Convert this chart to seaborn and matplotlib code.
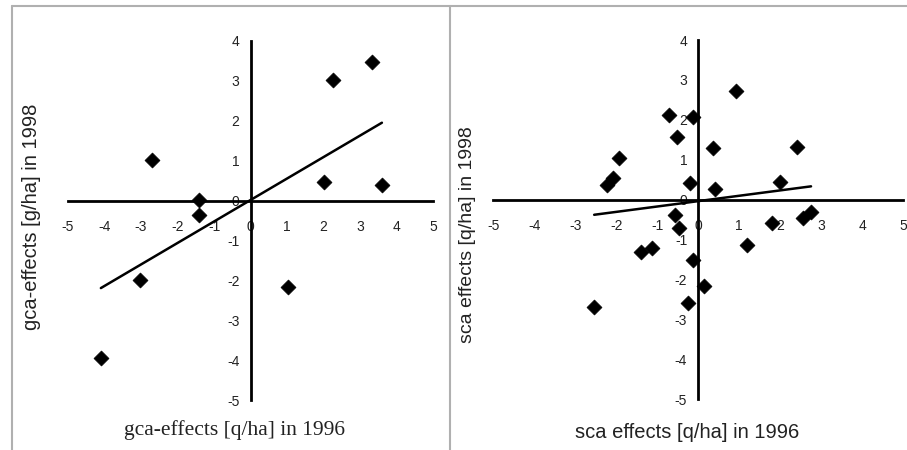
import numpy as np
import pandas as pd
import matplotlib.pyplot as plt
import seaborn as sns
from matplotlib.lines import Line2D

# gca effects, 1996 vs 1998
gca_1996 = [-2.69, -1.41, -1.41, -3.02, -4.10, 2.26, 3.32, 2.00, 3.60, 1.02]
gca_1998 = [1.02, 0.02, -0.35, -2.00, -3.95, 3.01, 3.47, 0.46, 0.38, -2.16]

# sca effects, 1996 vs 1998
sca_1996 = [-0.71, -0.14, 0.92, -0.52, 0.37, 2.41, -1.94, -2.09, -2.23, -0.20,
            0.41, 1.99, -0.57, -0.46, 1.79, 2.56, 2.75, -1.40, -1.14, 1.18,
            -0.12, 0.15, -0.26, -2.54]
sca_1998 = [2.12, 2.06, 2.73, 1.56, 1.30, 1.33, 1.05, 0.55, 0.37, 0.42,
            0.27, 0.45, -0.39, -0.72, -0.59, -0.47, -0.30, -1.32, -1.22, -1.14,
            -1.51, -2.16, -2.60, -2.70]

ticks_x = [-5, -4, -3, -2, -1, 0, 1, 2, 3, 4, 5]
ticks_y = [-5, -4, -3, -2, -1, 0, 1, 2, 3, 4]

sns.set_style("white")
plt.rcParams['font.family'] = ['Liberation Sans', 'DejaVu Sans']
plt.rcParams['axes.unicode_minus'] = False

fig = plt.figure(figsize=(9.07, 4.5), dpi=100)
ax1 = fig.add_axes([0.075, 0.1111, 0.4024, 0.7978])
ax2 = fig.add_axes([0.5439, 0.1133, 0.452, 0.7978])


def draw_panel(ax, x, y):
    df = pd.DataFrame({'x': x, 'y': y})
    sns.regplot(x='x', y='y', data=df, ax=ax, ci=None, marker='D', color='black',
                scatter_kws={'s': 58, 'edgecolors': 'black', 'linewidths': 0.5, 'alpha': 1},
                line_kws={'lw': 1.8, 'color': 'black'})
    ax.set_xlim(-5, 5)
    ax.set_ylim(-5, 4)
    for side in ['top', 'right']:
        ax.spines[side].set_visible(False)
    for side in ['left', 'bottom']:
        ax.spines[side].set_position('zero')
        ax.spines[side].set_linewidth(2)
        ax.spines[side].set_color('black')
    ax.set_xticks(ticks_x)
    ax.set_yticks(ticks_y)
    ax.tick_params(axis='x', direction='out', length=5, width=1.5, pad=9,
                   labelsize=10, colors='#222222')
    ax.tick_params(axis='y', direction='out', length=5, width=1.5, pad=3,
                   labelsize=10, colors='#222222')
    ax.set_xlabel('')
    ax.set_ylabel('')
    ax.patch.set_alpha(0)


draw_panel(ax1, gca_1996, gca_1998)
draw_panel(ax2, sca_1996, sca_1998)

# axis titles sit at the panel edges, not at the zero-crossing axes
fig.text(235 / 907, 1 - 430 / 450, 'gca-effects [q/ha] in 1996', ha='center', va='center',
         fontsize=15.5, family=['Liberation Serif', 'DejaVu Serif'], color='#222222')
fig.text(32 / 907, 1 - 217 / 450, 'gca-effects [g/ha] in 1998', ha='center', va='center',
         rotation=90, fontsize=14.5, color='#222222')
fig.text(687 / 907, 1 - 433 / 450, 'sca effects [q/ha] in 1996', ha='center', va='center',
         fontsize=14.5, color='#222222')
fig.text(468 / 907, 1 - 235 / 450, 'sca effects [q/ha] in 1998', ha='center', va='center',
         rotation=90, fontsize=14, color='#222222')

# light grey panel frame
frame = dict(color='#b0b0b0', lw=1.5, transform=fig.transFigure)
fig.add_artist(Line2D([12 / 907, 1], [1 - 6 / 450, 1 - 6 / 450], **frame))
fig.add_artist(Line2D([12 / 907, 12 / 907], [0, 1 - 6 / 450], **frame))
fig.add_artist(Line2D([450 / 907, 450 / 907], [0, 1 - 6 / 450], **frame))

fig.savefig('out.png', dpi=100)
